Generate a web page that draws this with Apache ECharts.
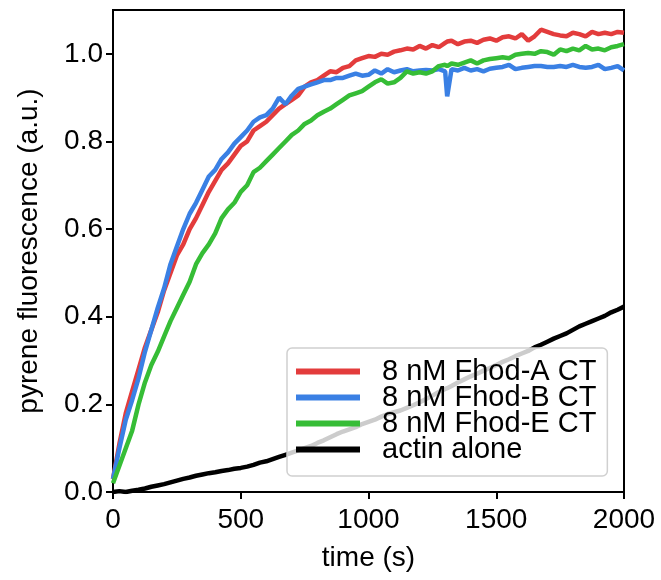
<!DOCTYPE html>
<html>
<head>
<meta charset="utf-8">
<script src="https://cdn.jsdelivr.net/npm/echarts@6/dist/echarts.min.js"></script>
<style>
html,body{margin:0;padding:0;background:#fff;}
#chart{width:661px;height:580px;}
</style>
</head>
<body>
<div id="chart"></div>
<script>
// time points (s)
var times = [0,25,50,75,100,125,150,175,200,225,250,275,300,325,350,375,400,425,450,475,
  500,525,550,575,600,625,650,675,700,725,750,775,800,825,850,875,900,925,950,975,
  1000,1025,1050,1075,1100,1125,1150,1175,1200,1225,1250,1275,1300,1308,1325,1350,1375,1400,1425,1450,1475,
  1500,1525,1550,1575,1600,1625,1650,1675,1700,1725,1750,1775,1800,1825,1850,1875,1900,1925,1950,1975,2000];

var fhodA = [0.03,0.11,0.18,0.23,0.28,0.33,0.37,0.41,0.46,0.50,0.54,0.565,0.60,0.625,0.655,0.685,0.71,0.735,0.75,0.77,
  0.79,0.80,0.825,0.835,0.845,0.86,0.875,0.885,0.895,0.905,0.925,0.935,0.94,0.95,0.96,0.958,0.968,0.972,0.985,0.99,
  0.995,0.993,1.0,0.998,1.005,1.008,1.012,1.01,1.018,1.012,1.02,1.015,1.025,1.028,1.03,1.022,1.028,1.03,1.025,1.032,1.035,
  1.03,1.038,1.04,1.035,1.045,1.03,1.04,1.055,1.05,1.045,1.042,1.04,1.048,1.045,1.04,1.05,1.045,1.048,1.045,1.05,1.048];

var fhodB = [0.03,0.10,0.165,0.21,0.26,0.32,0.37,0.42,0.465,0.52,0.56,0.60,0.635,0.66,0.69,0.72,0.735,0.76,0.775,0.795,
  0.81,0.825,0.845,0.855,0.86,0.875,0.90,0.885,0.905,0.92,0.925,0.93,0.935,0.94,0.94,0.945,0.945,0.95,0.955,0.95,
  0.952,0.962,0.955,0.965,0.958,0.962,0.965,0.96,0.962,0.963,0.962,0.965,0.96,0.903,0.965,0.962,0.968,0.962,0.965,0.96,0.966,
  0.968,0.97,0.975,0.965,0.968,0.97,0.972,0.972,0.97,0.97,0.972,0.97,0.975,0.97,0.968,0.97,0.975,0.965,0.968,0.972,0.962];

var fhodE = [0.02,0.06,0.10,0.14,0.20,0.25,0.29,0.32,0.355,0.39,0.42,0.45,0.48,0.52,0.545,0.565,0.59,0.625,0.645,0.66,
  0.685,0.70,0.73,0.74,0.755,0.77,0.785,0.80,0.815,0.825,0.84,0.848,0.86,0.868,0.875,0.885,0.895,0.905,0.91,0.915,
  0.925,0.935,0.942,0.932,0.935,0.945,0.96,0.955,0.958,0.955,0.96,0.972,0.975,0.972,0.978,0.975,0.98,0.985,0.978,0.985,0.988,
  0.99,0.992,0.99,0.998,1.0,1.002,1.0,1.006,1.004,0.998,1.01,1.006,1.012,1.008,1.018,1.01,1.012,1.008,1.015,1.018,1.022];

var actinAlone = [0.0,0.002,0.0,0.003,0.005,0.008,0.012,0.015,0.018,0.022,0.026,0.03,0.033,0.037,0.04,0.043,0.045,0.048,0.05,0.053,
  0.055,0.058,0.062,0.067,0.07,0.075,0.08,0.085,0.09,0.095,0.10,0.105,0.112,0.118,0.125,0.132,0.138,0.143,0.148,0.155,
  0.16,0.165,0.172,0.178,0.182,0.186,0.192,0.198,0.205,0.212,0.22,0.228,0.235,0.237,0.242,0.25,0.257,0.264,0.27,0.277,0.283,
  0.29,0.297,0.303,0.31,0.316,0.322,0.33,0.336,0.343,0.35,0.356,0.362,0.37,0.378,0.384,0.39,0.396,0.402,0.41,0.416,0.423];

var seriesNames = ['8 nM Fhod-A CT','8 nM Fhod-B CT','8 nM Fhod-E CT','actin alone'];
var seriesColors = ['#e33c3c','#3a80e4','#36bd36','#000000'];
var xTicks = [0,500,1000,1500,2000];
var yTicks = [0.0,0.2,0.4,0.6,0.8,1.0];

var FONT = 'Arial, "Liberation Sans", sans-serif';
var allValues = [fhodA, fhodB, fhodE, actinAlone];

var chart = echarts.init(document.getElementById('chart'), null, {renderer:'canvas'});
chart.setOption({
  animation: false,
  backgroundColor: '#fff',
  grid: {left:113, top:10, right:37, bottom:88, show:true, borderColor:'#000', borderWidth:2, backgroundColor:'transparent'},
  xAxis: {
    type:'value', min:0, max:2000, interval:500,
    name:'time (s)', nameLocation:'middle', nameGap:52,
    nameTextStyle:{fontFamily:FONT, fontSize:28, color:'#000'},
    axisLine:{show:true, lineStyle:{color:'#000', width:2}},
    axisTick:{show:true, length:7, lineStyle:{color:'#000', width:2}, customValues:xTicks},
    axisLabel:{fontFamily:FONT, fontSize:28, color:'#000', margin:14, customValues:xTicks,
      formatter:function(v){return String(v);}},
    splitLine:{show:false}
  },
  yAxis: {
    type:'value', min:0, max:1.1, interval:0.2,
    name:'pyrene fluorescence (a.u.)', nameLocation:'middle', nameGap:70,
    nameTextStyle:{fontFamily:FONT, fontSize:28, color:'#000'},
    axisLine:{show:true, lineStyle:{color:'#000', width:2}},
    axisTick:{show:true, length:7, lineStyle:{color:'#000', width:2}, customValues:yTicks},
    axisLabel:{fontFamily:FONT, fontSize:28, color:'#000', margin:10, customValues:yTicks,
      formatter:function(v){return v.toFixed(1);}},
    splitLine:{show:false}
  },
  legend: {
    orient:'vertical', left:287, top:348,
    data: seriesNames.map(function(n){return {name:n, icon:'rect'};}),
    itemWidth:64, itemHeight:6, itemGap:-3,
    padding:[9,11,12,9],
    backgroundColor:'rgba(255,255,255,0.8)',
    borderColor:'#d0d0d0', borderWidth:1.5, borderRadius:5,
    textStyle:{fontFamily:FONT, fontSize:29, color:'#000', lineHeight:26, padding:[0,0,0,17]}
  },
  series: seriesNames.map(function(n, k){
    return {
      name:n, type:'line', showSymbol:false, symbol:'none',
      color:seriesColors[k],
      lineStyle:{color:seriesColors[k], width:4.5},
      data: times.map(function(t,i){return [t, allValues[k][i]];})
    };
  })
});
</script>
</body>
</html>
